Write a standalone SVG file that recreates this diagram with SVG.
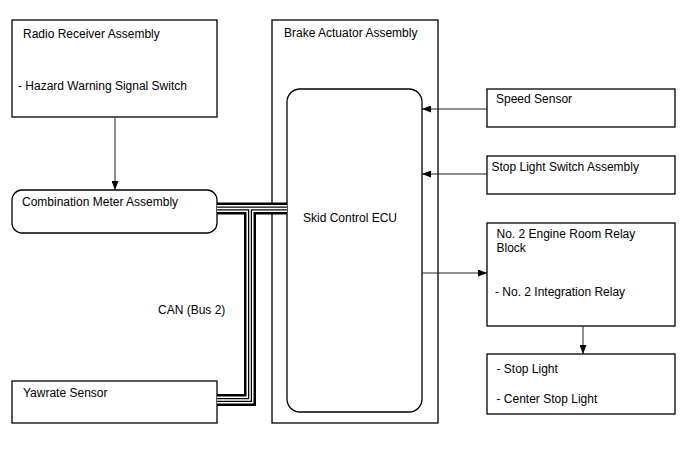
<svg xmlns="http://www.w3.org/2000/svg" width="688" height="463" viewBox="0 0 688 463">
<defs>
<marker id="ah" markerWidth="9" markerHeight="7" refX="9" refY="3.5" orient="auto" markerUnits="userSpaceOnUse">
<path d="M0,0 L9,3.5 L0,7 Z" fill="#000"/>
</marker>
</defs>
<style>
text{font-family:"Liberation Sans",Arial,sans-serif;font-size:12px;fill:#000}
.box{fill:#fff;stroke:#000;stroke-width:1.3}
.frame{fill:none;stroke:#000;stroke-width:1.3}
.arr{fill:none;stroke:#222;stroke-width:1;marker-end:url(#ah)}
.bus{fill:none;stroke-linejoin:miter;stroke-linecap:butt}
.b1{stroke:#000;stroke-width:12}
.b2{stroke:#fff;stroke-width:7}
.b3{stroke:#000;stroke-width:4}
.b4{stroke:#fff;stroke-width:1.5}
</style>
<rect width="688" height="463" fill="#fff"/>
<g id="brake-actuator">
<rect class="frame" x="272" y="20" width="166" height="403"/>
<text x="284" y="37">Brake Actuator Assembly</text>
</g>
<g id="skid-control-ecu">
<rect class="box" x="287" y="89" width="135" height="323" rx="13"/>
<text x="303" y="222">Skid Control ECU</text>
</g>
<g id="radio-receiver">
<rect class="box" x="12" y="20" width="205" height="97"/>
<text x="23" y="38">Radio Receiver Assembly</text>
<text x="18" y="90">- Hazard Warning Signal Switch</text>
</g>
<g id="combination-meter">
<rect class="box" x="12" y="190" width="205" height="43" rx="10"/>
<text x="22" y="205.5">Combination Meter Assembly</text>
</g>
<g id="yawrate-sensor">
<rect class="box" x="12" y="381" width="205" height="42"/>
<text x="23" y="397">Yawrate Sensor</text>
</g>
<g id="speed-sensor">
<rect class="box" x="487" y="89" width="188" height="38"/>
<text x="496" y="102.5">Speed Sensor</text>
</g>
<g id="stop-light-switch">
<rect class="box" x="487" y="156" width="188" height="38"/>
<text x="491.5" y="170.5">Stop Light Switch Assembly</text>
</g>
<g id="relay-block">
<rect class="box" x="487" y="223" width="188" height="103"/>
<text x="496.5" y="238">No. 2 Engine Room Relay</text>
<text x="496.5" y="252">Block</text>
<text x="495" y="296">- No. 2 Integration Relay</text>
</g>
<g id="stop-lights">
<rect class="box" x="487" y="354" width="188" height="60"/>
<text x="496.5" y="372.5">- Stop Light</text>
<text x="496.5" y="403">- Center Stop Light</text>
</g>
<g id="connectors">
<line class="arr" x1="115" y1="117" x2="115" y2="190"/>
<line class="arr" x1="487" y1="109" x2="422" y2="109"/>
<line class="arr" x1="487" y1="174" x2="422" y2="174"/>
<line class="arr" x1="422" y1="273" x2="487" y2="273"/>
<line class="arr" x1="583" y1="326" x2="583" y2="354"/>
<g class="bus">
<path class="b1" d="M217,208.5 H287 M250,208.5 V400 H217"/>
<path class="b2" d="M217,208.5 H287 M250,208.5 V400 H217"/>
<path class="b3" d="M217,208.5 H287 M250,208.5 V400 H217"/>
<path class="b4" d="M217,208.5 H287 M250,208.5 V400 H217"/>
</g>
<text x="158" y="314">CAN (Bus 2)</text>
</g>
</svg>
